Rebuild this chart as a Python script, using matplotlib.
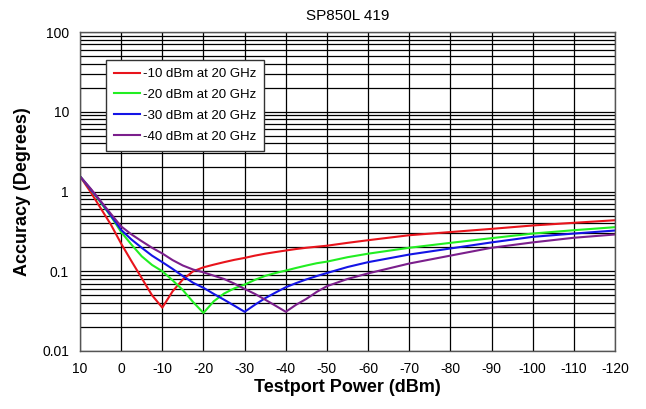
import matplotlib
matplotlib.use('Agg')
import matplotlib.pyplot as plt
from matplotlib.ticker import FixedLocator, LogLocator, NullFormatter

# Testport power (dBm)
power = [10, 7.5, 5, 2.5, 0, -2.5, -5, -7.5, -10, -12.5, -15, -17.5, -20,
         -22.5, -25, -27.5, -30, -32.5, -35, -37.5, -40, -42.5, -45, -47.5,
         -50, -55, -60, -70, -80, -90, -100, -110, -120]

# Accuracy (degrees)
acc_10 = [1.55, 1.0, 0.62, 0.385, 0.222, 0.134, 0.082, 0.050, 0.035, 0.056,
          0.079, 0.100, 0.112, 0.121, 0.130, 0.139, 0.147, 0.157, 0.166,
          0.174, 0.182, 0.190, 0.197, 0.203, 0.209, 0.227, 0.245, 0.283,
          0.31, 0.34, 0.375, 0.405, 0.436]
acc_20 = [1.55, 1.08, 0.73, 0.49, 0.31, 0.216, 0.154, 0.12, 0.1, 0.077,
          0.058, 0.041, 0.030, 0.042, 0.0525, 0.061, 0.068, 0.078, 0.0875,
          0.095, 0.102, 0.110, 0.118, 0.126, 0.132, 0.15, 0.166, 0.197,
          0.227, 0.26, 0.297, 0.327, 0.357]
acc_30 = [1.55, 1.08, 0.75, 0.50, 0.33, 0.25, 0.197, 0.157, 0.13, 0.107,
          0.087, 0.0716, 0.062, 0.052, 0.044, 0.037, 0.031, 0.038, 0.046,
          0.054, 0.063, 0.071, 0.079, 0.087, 0.095, 0.113, 0.13, 0.162,
          0.193, 0.23, 0.27, 0.297, 0.324]
acc_40 = [1.55, 1.1, 0.76, 0.525, 0.365, 0.29, 0.238, 0.197, 0.167, 0.138,
          0.118, 0.105, 0.097, 0.088, 0.080, 0.07, 0.06, 0.052, 0.044,
          0.037, 0.031, 0.038, 0.045, 0.055, 0.065, 0.08, 0.094, 0.125,
          0.157, 0.197, 0.23, 0.263, 0.289]

labels = ['-10 dBm at 20 GHz', '-20 dBm at 20 GHz',
          '-30 dBm at 20 GHz', '-40 dBm at 20 GHz']
colors = ['#e8141c', '#22ee22', '#1414e6', '#7b1f8c']

x_ticks = list(range(10, -121, -10))
y_ticks = [0.01, 0.1, 1, 10, 100]
y_labels = ['0.01', '0.1', '1', '10', '100']

plt.rcParams['font.family'] = ['Liberation Sans', 'DejaVu Sans']

fig = plt.figure(figsize=(6.46, 4.09), dpi=100)
ax = fig.add_axes([80 / 646, 1 - 351 / 409, 535 / 646, 319 / 409])

for ys, lab, c in zip([acc_10, acc_20, acc_30, acc_40], labels, colors):
    ax.plot(power, ys, color=c, lw=1.5, label=lab)

ax.set_yscale('log')
ax.set_xlim(10, -120)
ax.set_ylim(0.01, 100)

ax.xaxis.set_major_locator(FixedLocator(x_ticks))
ax.set_xticklabels([str(t) for t in x_ticks])
ax.yaxis.set_major_locator(FixedLocator(y_ticks))
ax.set_yticklabels(y_labels)
ax.yaxis.set_minor_locator(LogLocator(base=10, subs=range(2, 10)))
ax.yaxis.set_minor_formatter(NullFormatter())

ax.grid(True, which='major', color='black', lw=0.9)
ax.grid(True, which='minor', axis='y', color='black', lw=0.9)
ax.tick_params(which='both', length=0, labelsize=10, pad=8)
for s in ax.spines.values():
    s.set_color('#555555')
    s.set_linewidth(1)

ax.set_title('SP850L 419', fontsize=11, pad=9)
ax.set_xlabel('Testport Power (dBm)', fontsize=13, fontweight='bold', labelpad=2)
ax.set_ylabel('Accuracy (Degrees)', fontsize=13, fontweight='bold', labelpad=8)

leg = ax.legend(loc='upper left', bbox_to_anchor=(26 / 535, 1 - 28 / 319),
                fontsize=9.5, frameon=True, fancybox=False, handlelength=2.0,
                handletextpad=0.2, borderpad=0.6, labelspacing=0.65,
                borderaxespad=0)
leg.get_frame().set_edgecolor('#333333')
leg.get_frame().set_linewidth(1)
leg.get_frame().set_alpha(1)

plt.savefig('out.png', dpi=100)
